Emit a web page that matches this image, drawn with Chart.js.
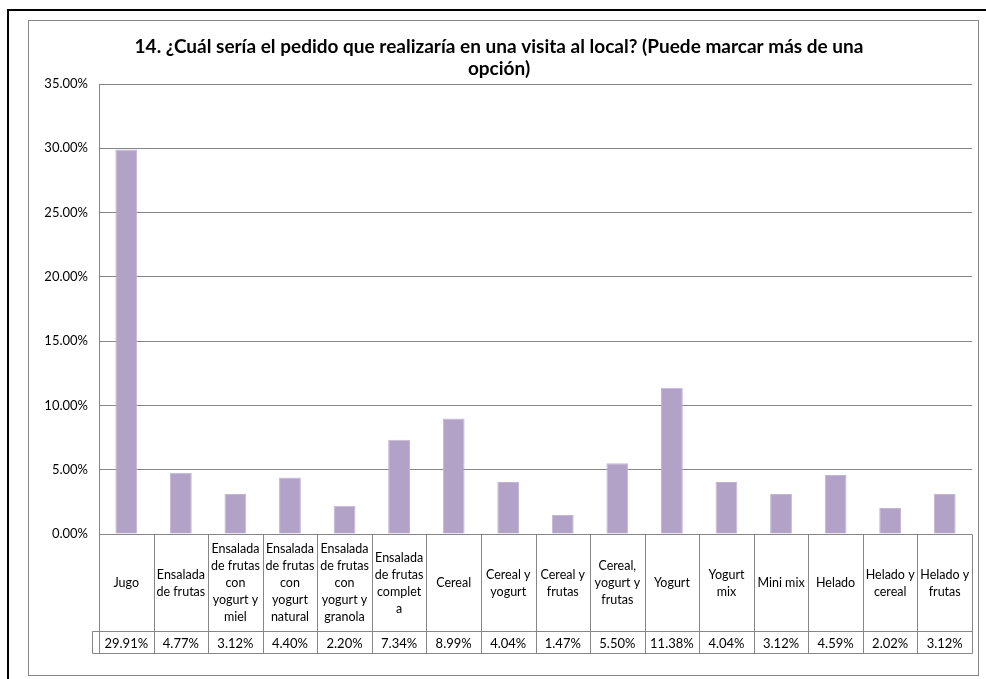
<!DOCTYPE html>
<html>
<head>
<meta charset="utf-8">
<script src="https://cdn.jsdelivr.net/npm/chart.js@4/dist/chart.umd.min.js"></script>
<style>
html,body{margin:0;padding:0;background:#fff;}
#wrap{position:relative;width:986px;height:679px;}
</style>
</head>
<body>
<div id="wrap"><canvas id="c" width="986" height="679"></canvas></div>
<script>
const titleLines = [
  "14. ¿Cuál sería el pedido que realizaría en una visita al local? (Puede marcar más de una",
  "opción)"
];
const categories = [
  ["Jugo"],
  ["Ensalada", "de frutas"],
  ["Ensalada", "de frutas", "con", "yogurt y", "miel"],
  ["Ensalada", "de frutas", "con", "yogurt", "natural"],
  ["Ensalada", "de frutas", "con", "yogurt y", "granola"],
  ["Ensalada", "de frutas", "complet", "a"],
  ["Cereal"],
  ["Cereal y", "yogurt"],
  ["Cereal y", "frutas"],
  ["Cereal,", "yogurt y", "frutas"],
  ["Yogurt"],
  ["Yogurt", "mix"],
  ["Mini mix"],
  ["Helado"],
  ["Helado y", "cereal"],
  ["Helado y", "frutas"]
];
const values = [29.91, 4.77, 3.12, 4.40, 2.20, 7.34, 8.99, 4.04, 1.47, 5.50, 11.38, 4.04, 3.12, 4.59, 2.02, 3.12];
const valueLabels = ["29.91%", "4.77%", "3.12%", "4.40%", "2.20%", "7.34%", "8.99%", "4.04%", "1.47%", "5.50%", "11.38%", "4.04%", "3.12%", "4.59%", "2.02%", "3.12%"];
const yMax = 35;
const yStep = 5;

const FONT = "Lato, 'Open Sans', sans-serif";
const GRAY = "#868686";

const framePlugin = {
  id: 'frame',
  beforeDraw(chart) {
    const ctx = chart.ctx;
    ctx.save();
    ctx.fillStyle = '#fff';
    ctx.fillRect(0, 0, chart.width, chart.height);
    ctx.strokeStyle = '#000';
    ctx.lineWidth = 2;
    ctx.strokeRect(8, 10, 1000, 700);
    ctx.strokeStyle = GRAY;
    ctx.lineWidth = 1;
    ctx.strokeRect(28.5, 20.5, 950, 655);
    ctx.fillStyle = '#000';
    ctx.font = "bold 19px " + FONT;
    ctx.textAlign = 'center';
    ctx.textBaseline = 'middle';
    ctx.fillText(titleLines[0], 499, 47);
    ctx.fillText(titleLines[1], 499, 69);
    ctx.restore();
  },
  afterDraw(chart) {
    const ctx = chart.ctx;
    const xs = chart.scales.x;
    const area = chart.chartArea;
    const n = categories.length;
    const colW = (area.right - area.left) / n;
    const top = Math.round(area.bottom) + 0.5;
    const mid = 631.5;
    const bot = 653.5;
    ctx.save();
    ctx.strokeStyle = GRAY;
    ctx.lineWidth = 1;
    ctx.beginPath();
    for (let i = 0; i <= n; i++) {
      const x = Math.round(area.left + i * colW) + 0.5;
      ctx.moveTo(x, top);
      ctx.lineTo(x, bot);
    }
    ctx.moveTo(92.5, mid); ctx.lineTo(Math.round(area.right) + 0.5, mid);
    ctx.moveTo(92.5, bot); ctx.lineTo(Math.round(area.right) + 0.5, bot);
    ctx.moveTo(92.5, mid); ctx.lineTo(92.5, bot);
    ctx.stroke();
    ctx.fillStyle = '#000';
    ctx.textAlign = 'center';
    ctx.textBaseline = 'middle';
    const lh = 17;
    const cy = (top + mid) / 2;
    for (let i = 0; i < n; i++) {
      const x = xs.getPixelForValue(i);
      const lines = categories[i];
      const y0 = cy - (lines.length - 1) * lh / 2;
      ctx.font = "12.5px " + FONT;
      lines.forEach((t, k) => ctx.fillText(t, x, y0 + k * lh));
      ctx.font = "13px " + FONT;
      ctx.fillText(valueLabels[i], x, (mid + bot) / 2 + 1);
    }
    ctx.restore();
  }
};

new Chart(document.getElementById('c'), {
  type: 'bar',
  data: {
    labels: categories.map(c => c.join(' ')),
    datasets: [{
      data: values,
      backgroundColor: '#B2A2C7',
      borderColor: '#C3B6D5',
      borderWidth: 1,
      barPercentage: 0.4,
      categoryPercentage: 1.0
    }]
  },
  options: {
    responsive: false,
    animation: false,
    layout: { padding: { left: 29, top: 84, right: 14, bottom: 145 } },
    plugins: { legend: { display: false }, tooltip: { enabled: false }, title: { display: false } },
    scales: {
      x: { display: false, offset: true },
      y: {
        min: 0, max: yMax,
        afterFit(scale) { scale.width = 70; },
        ticks: {
          stepSize: yStep,
          padding: 11,
          color: '#000',
          font: { family: FONT, size: 13 },
          callback: v => v.toFixed(2) + '%'
        },
        grid: { color: GRAY, lineWidth: 1, drawTicks: false },
        border: { display: true, color: GRAY, width: 1 }
      }
    }
  },
  plugins: [framePlugin]
});
</script>
</body>
</html>
